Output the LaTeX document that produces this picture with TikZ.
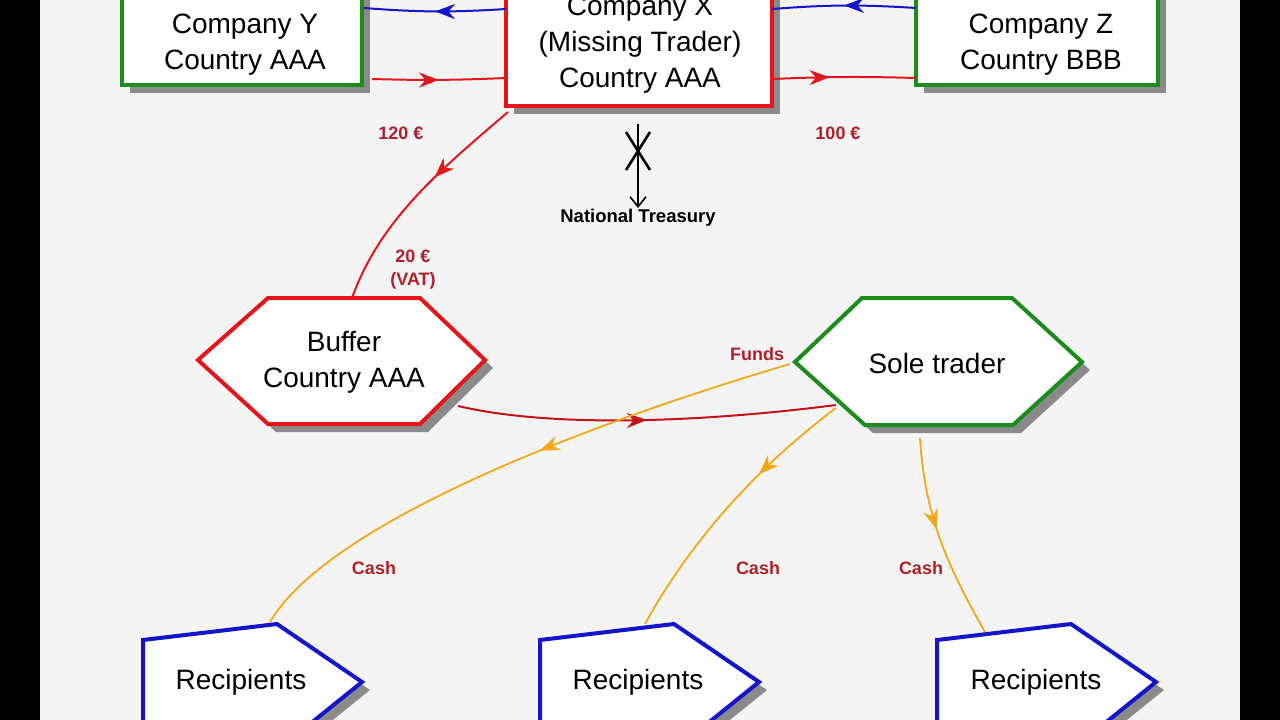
\documentclass[tikz,border=0pt]{standalone}
\usepackage{fontspec}
\setmainfont{Liberation Sans}
\usetikzlibrary{decorations.markings,arrows.meta}
\definecolor{bg}{HTML}{F4F4F4}
\definecolor{gr}{HTML}{1C8C1C}
\definecolor{rd}{HTML}{E3161C}
\definecolor{bl}{HTML}{1414C8}
\definecolor{og}{HTML}{F0A818}
\definecolor{lab}{HTML}{B0202A}
\definecolor{sh}{HTML}{8A8A8A}
\tikzset{
  box/.style={line width=4pt,fill=white},
  shad/.style={fill=sh,draw=none},
  txt/.style={font=\fontsize{28}{36}\selectfont,align=center,text=black},
  lbl/.style={font=\bfseries\fontsize{18}{23}\selectfont,text=lab,align=center},
  midarrow/.style={postaction={decorate},decoration={markings,mark=at position #1 with {\arrow{Stealth[length=20pt,width=15pt]}}}},
  conn/.style={line width=2pt}
}
\begin{document}
\begin{tikzpicture}[x=1pt,y=-1pt]
\useasboundingbox (0,0) rectangle (1280,720);
\fill[bg] (0,0) rectangle (1280,720);
\fill[black] (0,0) rectangle (40,720);
\fill[black] (1240,0) rectangle (1280,720);
\begin{scope}
\clip (40,0) rectangle (1240,720);
% shadows
\fill[shad] (130,-5) rectangle (370,93);
\fill[shad] (514,-5) rectangle (780,114);
\fill[shad] (924,-5) rectangle (1166,93);
\fill[shad] (206,368)--(276,306)--(428,306)--(493,368)--(428,432)--(276,432)--cycle;
\fill[shad] (803,370)--(870,306)--(1020,306)--(1090,370)--(1021,433)--(873,433)--cycle;
\foreach \dx in {0,397,794}{
  \fill[shad] (151+\dx,648)--(285+\dx,632)--(370+\dx,690)--(298+\dx,748)--(151+\dx,748)--cycle;
}
% boxes
\draw[box,draw=gr] (122,-5) rectangle (362,85);
\draw[box,draw=rd] (506,-5) rectangle (772,106);
\draw[box,draw=gr] (916,-5) rectangle (1158,85);
\draw[box,draw=rd] (198,360)--(268,298)--(420,298)--(485,360)--(420,424)--(268,424)--cycle;
\draw[box,draw=gr] (795,362)--(862,298)--(1012,298)--(1082,362)--(1013,425)--(865,425)--cycle;
\foreach \dx in {0,397,794}{
  \draw[box,draw=bl] (143+\dx,640)--(277+\dx,624)--(362+\dx,682)--(290+\dx,740)--(143+\dx,740)--cycle;
}
\end{scope}
% texts
\node[txt] (cy) at (245,45) {Company Y\\Country AAA};
\node[txt] (cx) at (640,45) {Company X\\(Missing Trader)\\Country AAA};
\node[txt] (cz) at (1041,45) {Company Z\\Country BBB};
\node[txt] (buf) at (344,362) {Buffer\\Country AAA};
\node[txt] (st) at (937,363) {Sole trader};
\node[txt] (r1) at (241,682) {Recipients};
\node[txt] (r2) at (638,682) {Recipients};
\node[txt] (r3) at (1036,682) {Recipients};
% anchor coordinates
\coordinate (xl1) at (506,9); \coordinate (yr1) at (364,8);
\coordinate (xr1) at (772,9); \coordinate (zl1) at (916,8);
\coordinate (yr2) at (372,79); \coordinate (xl2) at (506,78);
\coordinate (xr2) at (772,79); \coordinate (zl2) at (916,78);
\coordinate (xb) at (508,112); \coordinate (bt) at (352,298);
\coordinate (br) at (458,406); \coordinate (sl) at (836,405);
\coordinate (sf) at (790,364); \coordinate (r1t) at (270,622);
\coordinate (sb) at (836,408); \coordinate (r2t) at (645,624);
\coordinate (sd) at (920,438); \coordinate (r3t) at (985,632);
\coordinate (tt) at (638,124); \coordinate (tb) at (638,208);
% connectors
\draw[conn,bl,midarrow=0.5] (xl1) to[bend left=4] (yr1);
\draw[conn,bl,midarrow=0.5] (zl1) to[bend right=4] (xr1);
\draw[conn,rd,midarrow=0.5] (yr2) to[bend right=2] (xl2);
\draw[conn,rd,midarrow=0.4] (xr2) to[bend left=2] (zl2);
\draw[conn,rd,midarrow=0.4] (xb) .. controls (440,170) and (380,220) .. (bt);
\draw[conn,rd!85!black,midarrow=0.5] (br) .. controls (560,430) and (720,420) .. (sl);
\draw[conn,og,line width=1.8pt,midarrow=0.45] (sf) .. controls (600,420) and (330,520) .. (r1t);
\draw[conn,og,line width=1.8pt,midarrow=0.35] (sb) .. controls (740,480) and (680,560) .. (r2t);
\draw[conn,og,line width=1.8pt,midarrow=0.45] (sd) .. controls (925,520) and (950,570) .. (r3t);
\draw[line width=1.6pt,-{Straight Barb[length=10pt,width=16pt]}] (tt) -- (tb);
\draw[line width=2.6pt] (626,132) -- (650,170);
\draw[line width=2.6pt] (650,132) -- (626,170);
% labels
\node[font=\bfseries\fontsize{18.5}{22}\selectfont] (nt) at (638,218) {National Treasury};
\node[lbl] (l120) at (401,133) {120 €};
\node[lbl] (l100) at (838,133) {100 €};
\node[lbl] (l20) at (413,270) {20 €\\(VAT)};
\node[lbl] (lf) at (757,354) {Funds};
\node[lbl] (c1) at (374,568) {Cash};
\node[lbl] (c2) at (758,568) {Cash};
\node[lbl] (c3) at (921,568) {Cash};
\end{tikzpicture}
\end{document}
